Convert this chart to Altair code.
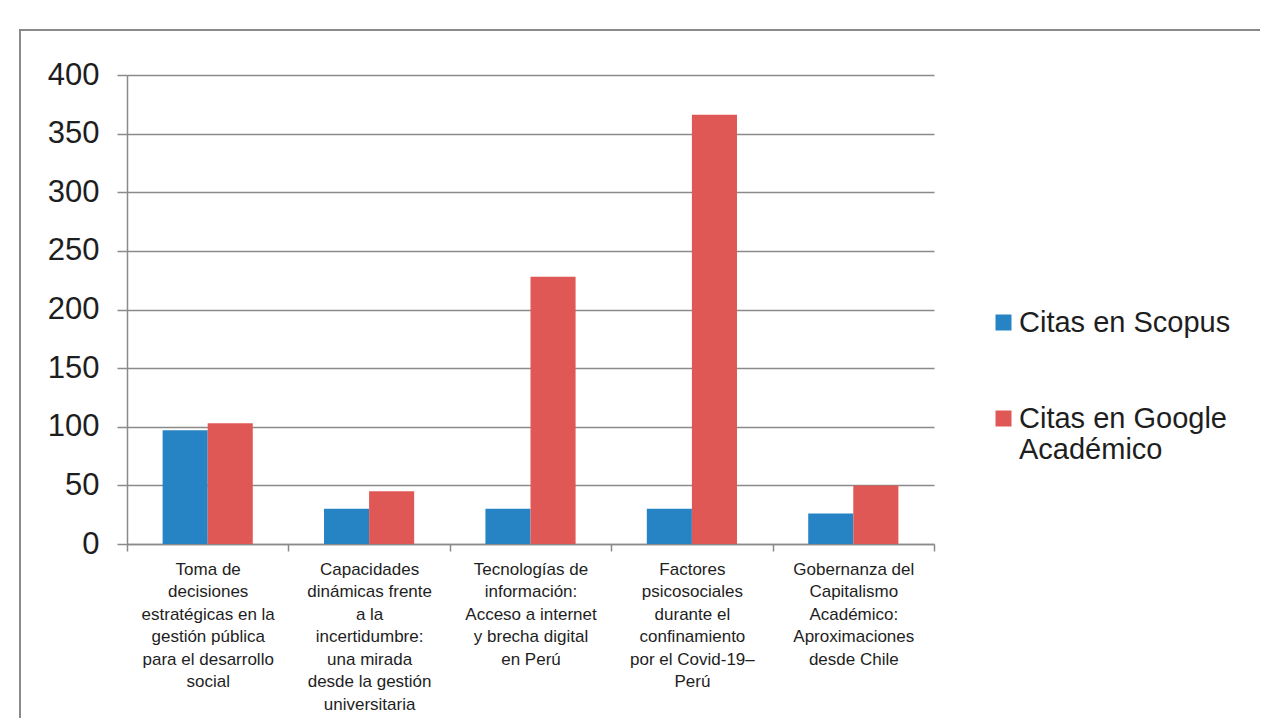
import altair as alt
import pandas as pd

categories = [
    "Toma de|decisiones|estratégicas en la|gestión pública|para el desarrollo|social",
    "Capacidades|dinámicas frente|a la|incertidumbre:|una mirada|desde la gestión|universitaria",
    "Tecnologías de|información:|Acceso a internet|y brecha digital|en Perú",
    "Factores|psicosociales|durante  el|confinamiento|por el Covid-19–|Perú",
    "Gobernanza del|Capitalismo|Académico:|Aproximaciones|desde Chile",
]
series = ["Citas en Scopus", "Citas en Google Académico"]
scopus = [97, 30, 30, 30, 26]
google = [103, 45, 228, 366, 50]
colors = ["#2784C4", "#E05855"]

rows = []
for c, s, g in zip(categories, scopus, google):
    rows.append({"cat": c, "serie": series[0], "valor": s})
    rows.append({"cat": c, "serie": series[1], "valor": g})
df = pd.DataFrame(rows)

FONT = "Liberation Sans"
GRAY = "#8a8a8a"
TXT = "#1e1e1e"

frame = alt.Chart(alt.Data(values=[{"k": 1}])).mark_rect(
    fillOpacity=0, stroke=GRAY, strokeWidth=2
).encode(
    x=alt.value(-107), x2=alt.value(1160), y=alt.value(-45), y2=alt.value(680)
)

bars = alt.Chart(df).mark_bar().encode(
    x=alt.X(
        "cat:N",
        sort=categories,
        title=None,
        scale=alt.Scale(paddingInner=0, paddingOuter=0),
        axis=alt.Axis(
            labelExpr="split(datum.label, '|')",
            labelAngle=0,
            labelAlign="center",
            labelBaseline="top",
            labelFont=FONT,
            labelFontSize=17,
            labelLineHeight=22.5,
            labelColor=TXT,
            labelPadding=10,
            labelLimit=0,
            tickBand="extent",
            tickSize=7,
            tickColor=GRAY,
            tickWidth=1.5,
            domainColor=GRAY,
            domainWidth=1.5,
            grid=False,
        ),
    ),
    xOffset=alt.XOffset(
        "serie:N",
        sort=series,
        scale=alt.Scale(paddingInner=0, paddingOuter=0.79),
    ),
    y=alt.Y(
        "valor:Q",
        title=None,
        scale=alt.Scale(domain=[0, 400], nice=False),
        axis=alt.Axis(
            values=[0, 50, 100, 150, 200, 250, 300, 350, 400],
            labelFont=FONT,
            labelFontSize=31,
            labelColor=TXT,
            labelPadding=18,
            tickSize=10,
            tickColor=GRAY,
            tickWidth=1.5,
            domainColor=GRAY,
            domainWidth=1.5,
            gridColor=GRAY,
            gridWidth=1.5,
        ),
    ),
    color=alt.Color(
        "serie:N",
        sort=series,
        scale=alt.Scale(domain=series, range=colors),
        legend=alt.Legend(
            title=None,
            orient="none",
            legendX=862,
            legendY=233,
            symbolType="square",
            symbolSize=256,
            symbolStrokeWidth=0,
            labelFont=FONT,
            labelFontSize=29,
            labelColor=TXT,
            labelOffset=1,
            labelLimit=0,
            labelBaseline="middle",
            labelExpr="datum.label == 'Citas en Google Académico' ? ['Citas en Google', 'Académico'] : datum.label",
            rowPadding=66,
            padding=0,
        ),
    ),
)

chart = alt.layer(frame, bars).properties(
    width=807,
    height=469,
    autosize=alt.AutoSizeParams(type="none"),
    padding={"left": 119, "top": 67, "right": 326, "bottom": 174},
    background="white",
).configure_view(stroke=None)

chart.save("out.html", embed_options={"renderer": "svg", "actions": False})
